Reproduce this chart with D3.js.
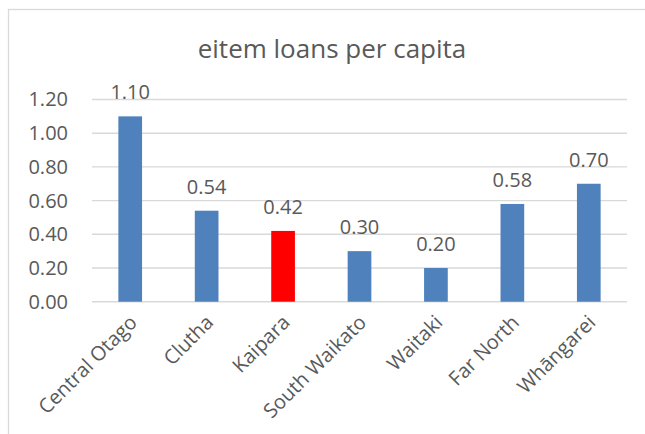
<!DOCTYPE html>
<html>
<head>
<meta charset="utf-8">
<script src="https://cdn.jsdelivr.net/npm/d3@7"></script>
<style>
  html, body { margin: 0; padding: 0; background: #fff; }
  svg { display: block; }
  text { font-family: "Open Sans", "Noto Sans", sans-serif; fill: #595959; }
</style>
</head>
<body>
<svg id="chart" width="645" height="434"></svg>
<script>
// Electronic item loans per head of population, by district
const categories = ["Central Otago", "Clutha", "Kaipara", "South Waikato", "Waitaki", "Far North", "Whāngarei"];
const values = [1.10, 0.54, 0.42, 0.30, 0.20, 0.58, 0.70];
const highlighted = ["Kaipara"];
const yTicks = [0, 0.2, 0.4, 0.6, 0.8, 1.0, 1.2];
const title = "eitem loans per capita";

const svg = d3.select("#chart");
const W = 645, H = 434;
const plot = { left: 92, right: 627, top: 99.5, bottom: 301.7 };

// Chart frame
svg.append("rect")
  .attr("x", 8.5).attr("y", 9.5)
  .attr("width", 660).attr("height", 440)
  .attr("fill", "#fff")
  .attr("stroke", "#d9d9d9").attr("stroke-width", 1.3);

const x = d3.scaleBand().domain(categories).range([plot.left, plot.right]).paddingInner(0.69).paddingOuter(0.345);
const y = d3.scaleLinear().domain([0, 1.2]).range([plot.bottom, plot.top]);

// Horizontal gridlines
svg.append("g").selectAll("line").data(yTicks).join("line")
  .attr("x1", plot.left).attr("x2", plot.right)
  .attr("y1", d => y(d)).attr("y2", d => y(d))
  .attr("stroke", "#d9d9d9").attr("stroke-width", 1.4);

// Y axis labels
const yAxis = d3.axisLeft(y).tickValues(yTicks).tickFormat(d3.format(".2f")).tickSize(0).tickPadding(0);
svg.append("g").attr("transform", `translate(${68},0)`).call(yAxis)
  .call(g => g.select(".domain").remove())
  .selectAll("text")
  .attr("font-family", "\"Open Sans\", sans-serif")
  .attr("font-size", 20)
  .attr("fill", "#595959");

// Bars
svg.append("g").selectAll("rect").data(categories).join("rect")
  .attr("x", d => x(d))
  .attr("width", x.bandwidth())
  .attr("y", (d, i) => y(values[i]))
  .attr("height", (d, i) => y(0) - y(values[i]))
  .attr("fill", d => highlighted.includes(d) ? "#ff0000" : "#4f81bd");

// Value labels
svg.append("g").selectAll("text").data(categories).join("text")
  .attr("x", d => x(d) + x.bandwidth() / 2)
  .attr("y", (d, i) => y(values[i]) - 17)
  .attr("text-anchor", "middle")
  .attr("font-size", 20)
  .text((d, i) => d3.format(".2f")(values[i]));

// Category labels, rotated
const xAxis = d3.axisBottom(x).tickSize(0).tickPadding(0);
svg.append("g").attr("transform", `translate(0,${plot.bottom})`).call(xAxis)
  .call(g => g.select(".domain").remove())
  .selectAll("text")
  .attr("font-family", "\"Open Sans\", sans-serif")
  .attr("font-size", 20)
  .attr("fill", "#595959")
  .attr("text-anchor", "end")
  .attr("dy", "0")
  .attr("transform", "translate(8,22) rotate(-45)");

// Title
svg.append("text")
  .attr("x", 332).attr("y", 58)
  .attr("text-anchor", "middle")
  .attr("font-size", 26)
  .text(title);
</script>
</body>
</html>
